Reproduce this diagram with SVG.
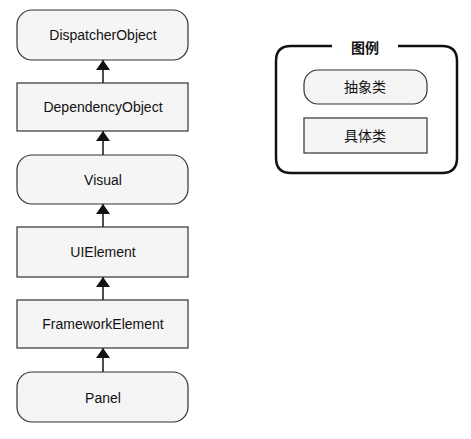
<svg xmlns="http://www.w3.org/2000/svg" width="471" height="439" viewBox="0 0 471 439">
<style>
.n{fill:#f5f5f5;stroke:#333;stroke-width:1.2}
.t{font-family:"Liberation Sans",Arial,sans-serif;font-size:14px;fill:#111;text-anchor:middle;dominant-baseline:central}
.c{font-family:"Liberation Sans","Noto Sans CJK SC",sans-serif}
.e{stroke:#111;stroke-width:1.5;fill:none}
</style>
<defs>
<marker id="a" viewBox="0 0 10 14" refX="10" refY="7" markerWidth="10" markerHeight="14" markerUnits="userSpaceOnUse" orient="auto">
<path d="M0,0 L10,7 L0,14 Z" fill="#111"/>
</marker>
</defs>
<rect width="471" height="439" fill="#fff"/>
<g id="connectors">
<line class="e" x1="103" y1="83" x2="103" y2="60" marker-end="url(#a)"/>
<line class="e" x1="103" y1="155" x2="103" y2="131" marker-end="url(#a)"/>
<line class="e" x1="103" y1="227" x2="103" y2="204" marker-end="url(#a)"/>
<line class="e" x1="103" y1="300" x2="103" y2="277" marker-end="url(#a)"/>
<line class="e" x1="103" y1="372" x2="103" y2="348" marker-end="url(#a)"/>
</g>
<g id="DispatcherObject"><rect class="n" x="17" y="10" width="171" height="50" rx="15"/><text class="t" x="103" y="35">DispatcherObject</text></g>
<g id="DependencyObject"><rect class="n" x="17" y="83" width="171" height="48"/><text class="t" x="103" y="107">DependencyObject</text></g>
<g id="Visual"><rect class="n" x="17" y="155" width="171" height="49" rx="15"/><text class="t" x="103" y="180">Visual</text></g>
<g id="UIElement"><rect class="n" x="17" y="227" width="171" height="50"/><text class="t" x="103" y="252">UIElement</text></g>
<g id="FrameworkElement"><rect class="n" x="17" y="300" width="171" height="48"/><text class="t" x="103" y="324">FrameworkElement</text></g>
<g id="Panel"><rect class="n" x="17" y="372" width="171" height="50" rx="15"/><text class="t" x="103" y="398">Panel</text></g>
<g id="legend">
<path d="M332,46 H291 Q276,46 276,61 V158 Q276,173 291,173 H442 Q457,173 457,158 V61 Q457,46 442,46 H398" fill="none" stroke="#111" stroke-width="2.5"/>
<text class="t c" x="365" y="48" font-weight="bold">图例</text>
<g id="abstract"><rect class="n" x="304" y="70" width="123" height="34" rx="14"/><text class="t c" x="365" y="87">抽象类</text></g>
<g id="concrete"><rect class="n" x="304" y="118" width="123" height="35"/><text class="t c" x="365" y="136">具体类</text></g>
</g>
</svg>
